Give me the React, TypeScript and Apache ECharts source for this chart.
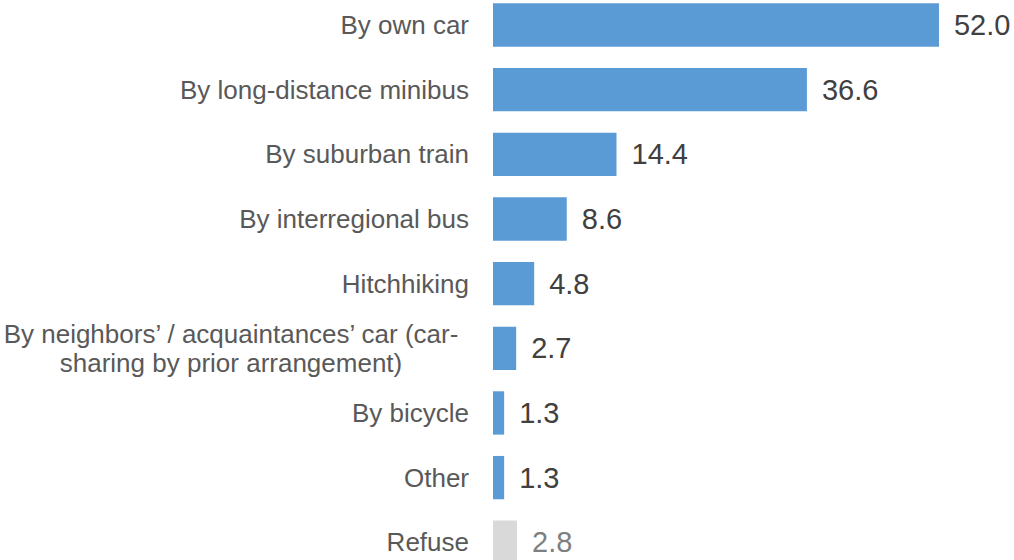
import React, { useEffect, useRef } from "react";
import * as echarts from "echarts";

const categories = [
  "By own car",
  "By long-distance minibus",
  "By suburban train",
  "By interregional bus",
  "Hitchhiking",
  "By neighbors’ / acquaintances’ car (car-\nsharing by prior arrangement)",
  "By bicycle",
  "Other",
  "Refuse",
];
const values = [52.0, 36.6, 14.4, 8.6, 4.8, 2.7, 1.3, 1.3, 2.8];
const highlightGray = ["Refuse"];

export default function App() {
  const ref = useRef<HTMLDivElement>(null);
  useEffect(() => {
    if (!ref.current) return;
    const chart = echarts.init(ref.current, null, { renderer: "svg" });
    const data = values.map((v, i) => {
      const gray = highlightGray.includes(categories[i]);
      return {
        value: v,
        itemStyle: { color: gray ? "#D9D9D9" : "#5B9BD5" },
        label: { color: gray ? "#7F7F7F" : "#404040" },
      };
    });
    chart.setOption({
      animation: false,
      grid: {
        left: 493,
        width: 514.6,
        top: -7.3,
        bottom: -14.6,
        containLabel: false,
        outerBoundsMode: "none",
      },
      xAxis: { type: "value", min: 0, max: 60, show: false },
      yAxis: {
        type: "category",
        data: categories,
        inverse: true,
        axisLine: { show: false },
        axisTick: { show: false },
        splitLine: { show: false },
        axisLabel: {
          margin: 24,
          fontFamily: "Liberation Sans, Arial, sans-serif",
          fontSize: 26,
          color: "#595959",
          lineHeight: 29,
          formatter: (v: string) =>
            v.includes("\n")
              ? v
                  .split("\n")
                  .map((l) => `{c|${l}}`)
                  .join("\n")
              : v,
          rich: {
            c: {
              width: 476,
              align: "center",
              fontSize: 26,
              lineHeight: 29,
              color: "#595959",
              fontFamily: "Liberation Sans, Arial, sans-serif",
            },
          },
        },
      },
      series: [
        {
          type: "bar",
          data,
          barCategoryGap: "33%",
          label: {
            show: true,
            position: "right",
            distance: 15,
            formatter: (p: any) => Number(p.value).toFixed(1),
            fontFamily: "Liberation Sans, Arial, sans-serif",
            fontSize: 29,
          },
        },
      ],
    });
    return () => chart.dispose();
  }, []);
  return (
    <div
      ref={ref}
      style={{ position: "fixed", left: 0, top: 0, width: 1014, height: 560, background: "#fff" }}
    />
  );
}
